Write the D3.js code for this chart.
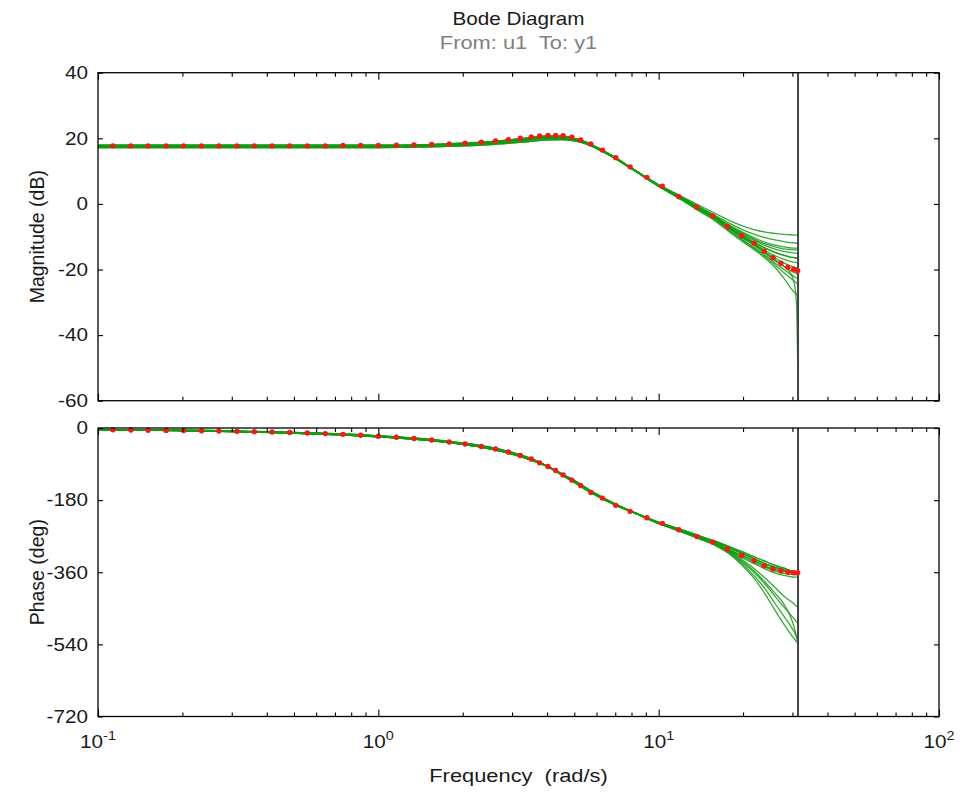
<!DOCTYPE html>
<html>
<head>
<meta charset="utf-8">
<script src="https://cdn.jsdelivr.net/npm/d3@7/dist/d3.min.js"></script>
<style>
  html, body { margin: 0; padding: 0; background: #ffffff; }
  svg { display: block; }
  text { font-family: "Liberation Sans", Arial, Helvetica, sans-serif; }
</style>
</head>
<body>
<svg id="chart" width="963" height="793"></svg>
<script>
// ---------------- DATA ----------------
const titleText = "Bode Diagram";
const subtitleText = "From: u1  To: y1";
const xLabelText = "Frequency  (rad/s)";
const magLabelText = "Magnitude (dB)";
const phaseLabelText = "Phase (deg)";

const xDecades = [0.1, 1, 10, 100];
const xDecadeExp = ["-1", "0", "1", "2"];
const magTicks = [40, 20, 0, -20, -40, -60];
const phaseTicks = [0, -180, -360, -540, -720];
const nyquistFreq = 31.4159;

// nominal model (red dots)
const redFreq = [0.113,0.131,0.151,0.175,0.202,0.234,0.270,0.313,0.361,0.418,0.483,0.558,0.647,0.748,0.865,
  1.00,1.16,1.34,1.55,1.79,2.04,2.33,2.62,2.91,3.21,3.51,3.76,4.03,4.29,4.56,4.90,5.27,5.73,6.30,7.03,7.91,9.08,
  10.3,11.8,13.7,15.6,17.6,19.8,21.9,23.8,25.6,27.3,28.9,30.3,31.3];
const redMag = [17.7,17.7,17.7,17.7,17.7,17.7,17.7,17.7,17.7,17.7,17.7,17.7,17.7,17.8,17.8,
  17.8,17.9,18.0,18.1,18.3,18.5,18.8,19.2,19.6,20.0,20.4,20.7,20.9,20.9,20.8,20.3,19.5,18.3,16.4,14.1,11.3,8.1,
  5.4,2.2,-1.0,-3.7,-6.9,-9.7,-12.0,-14.4,-16.4,-18.1,-19.3,-19.9,-20.4];
const redPhase = [-4.6,-5.0,-5.5,-6.0,-6.5,-7.0,-7.6,-8.3,-9.1,-10.0,-11.0,-12.4,-14.0,-15.9,-18.0,
  -20.5,-23.2,-26.2,-30.0,-35.0,-40.0,-46.0,-52.5,-60.0,-68.5,-77.5,-87.0,-96.0,-106,-117,-130,-143.5,-161,-175,-193,-208,-224,
  -238,-254,-271,-285,-302,-318,-331,-344,-352,-357,-360,-361,-361];

// perturbed models (green lines)
const greenFreq = [0.1,0.3,1,1.5,2,2.5,3,3.5,4,4.5,5,5.5,6,7,8,10,12,14,16,18,20,22,24,26,28,29.5,30.5,31,31.4];
const greenMag = [
  [17.9,17.9,17.9,18.1,18.5,19.0,19.6,20.2,20.6,20.5,19.9,18.8,17.3,14.1,10.9,5.9,2.4,-0.5,-3.0,-5.2,-6.8,-7.9,-8.6,-9.0,-9.3,-9.4,-9.5,-9.5,-9.5],
  [17.5,17.5,17.5,17.7,18.0,18.5,19.0,19.6,20.0,20.0,19.5,18.5,17.0,13.9,10.8,5.8,2.2,-0.9,-3.6,-6.0,-7.9,-9.3,-10.3,-11.0,-11.5,-11.8,-11.9,-12.0,-12.0],
  [17.2,17.2,17.2,17.4,17.7,18.1,18.6,19.1,19.5,19.6,19.2,18.3,16.9,13.8,10.7,5.7,2.1,-1.1,-3.9,-6.6,-8.7,-10.4,-11.7,-12.6,-13.1,-13.4,-13.5,-13.5,-13.5],
  [17.7,17.7,17.7,17.9,18.3,18.8,19.3,19.9,20.3,20.2,19.7,18.6,17.1,14.0,10.9,5.7,2.0,-1.3,-4.1,-7.0,-9.3,-11.2,-12.7,-13.8,-14.5,-14.8,-15.0,-15.0,-15.0],
  [17.4,17.4,17.4,17.6,18.0,18.6,19.3,20.1,20.7,20.7,20.0,18.9,17.3,14.1,10.9,5.6,1.9,-1.4,-4.3,-7.3,-9.7,-11.8,-13.5,-14.8,-15.7,-16.2,-16.4,-16.5,-16.5],
  [17.9,17.9,17.9,18.1,18.5,19.0,19.6,20.2,20.6,20.5,19.9,18.8,17.3,14.1,10.9,5.6,1.8,-1.5,-4.4,-7.5,-10.0,-12.2,-14.2,-15.8,-16.9,-17.5,-17.8,-17.9,-18.0],
  [17.5,17.5,17.5,17.7,18.0,18.5,19.0,19.6,20.0,20.0,19.5,18.5,17.0,13.9,10.8,5.5,1.7,-1.7,-4.6,-7.8,-10.5,-12.8,-15.1,-17.3,-19.1,-20.3,-21.0,-21.3,-21.5],
  [17.2,17.2,17.2,17.4,17.7,18.1,18.6,19.1,19.5,19.6,19.2,18.3,16.9,13.8,10.7,5.4,1.5,-1.9,-4.9,-8.2,-11.0,-13.4,-15.7,-18.0,-20.0,-21.4,-22.2,-22.5,-22.7],
  [17.7,17.7,17.7,17.9,18.3,18.8,19.3,19.9,20.3,20.2,19.7,18.6,17.1,14.0,10.9,5.3,1.3,-2.3,-5.4,-8.8,-11.6,-14.1,-16.6,-19.4,-22.7,-25.5,-27.0,-27.6,-28.0],
  [17.4,17.4,17.4,17.6,18.0,18.6,19.3,20.1,20.7,20.7,20.0,18.9,17.3,14.1,10.9,5.5,1.7,-1.6,-4.5,-7.6,-10.2,-12.5,-14.8,-17.0,-19.0,-21.0,-24.5,-30.0,-54.0],
  [17.5,17.5,17.5,17.7,18.0,18.5,19.0,19.6,20.0,20.0,19.5,18.5,17.0,13.9,10.8,5.6,1.8,-1.5,-4.4,-7.6,-10.2,-12.4,-14.6,-16.5,-18.0,-18.9,-19.3,-19.4,-19.5],
  [17.7,17.7,17.7,17.9,18.3,18.8,19.3,19.9,20.3,20.2,19.7,18.6,17.1,14.0,10.9,5.7,2.0,-1.2,-4.0,-6.8,-9.0,-10.8,-12.2,-13.1,-13.7,-13.9,-14.0,-14.0,-14.0],
  [17.2,17.2,17.2,17.4,17.7,18.1,18.6,19.1,19.5,19.6,19.2,18.3,16.9,13.8,10.7,5.4,1.5,-2.0,-5.0,-8.4,-11.2,-13.7,-16.1,-18.6,-21.0,-22.6,-23.6,-24.1,-24.5],
  [17.9,17.9,17.9,18.1,18.5,19.0,19.6,20.2,20.6,20.5,19.9,18.8,17.3,14.1,10.9,5.6,1.9,-1.4,-4.3,-7.3,-9.7,-11.8,-13.5,-14.8,-15.7,-16.2,-16.4,-16.5,-16.5]
];
const greenPhase = [
  [-3.8,-7.5,-19.5,-28.0,-37.5,-48.0,-61.0,-76.0,-95,-117,-136,-154,-169,-192,-208,-235,-253,-269,-283,-297,-310,-322,-333,-343,-350,-355,-358,-359,-360],
  [-4.5,-8.8,-22.0,-31.0,-41.0,-52.0,-65.0,-79.5,-96,-114,-131,-149,-165,-190,-208,-236,-254,-271,-285,-300,-314,-327,-339,-348,-354,-358,-360,-360,-360],
  [-4.5,-8.8,-22.0,-31.0,-41.0,-52.0,-65.0,-79.5,-96,-114,-131,-149,-165,-190,-208,-235,-253,-269,-283,-297,-310,-322,-333,-343,-350,-355,-358,-359,-360],
  [-4.1,-8.0,-20.5,-29.0,-39.0,-49.5,-62.5,-77.5,-95,-114.5,-133.5,-152,-168,-192,-209,-236,-254,-271,-285,-300,-314,-327,-339,-348,-354,-358,-360,-360,-360],
  [-3.8,-7.5,-19.5,-28.0,-37.5,-48.0,-61.0,-76.0,-95,-117,-136,-154,-169,-192,-208,-237,-256,-273,-288,-305,-319,-332,-345,-353,-358,-360,-361,-361,-360],
  [-4.1,-8.0,-20.5,-29.0,-39.0,-49.5,-62.5,-77.5,-95,-114.5,-133.5,-152,-168,-192,-209,-237,-256,-273,-288,-305,-319,-332,-345,-353,-358,-360,-361,-361,-360],
  [-4.5,-8.8,-22.0,-31.0,-41.0,-52.0,-65.0,-79.5,-96,-114,-131,-149,-165,-190,-208,-238,-257,-275,-290,-308,-330,-352,-375,-398,-420,-432,-440,-444,-447],
  [-4.5,-8.8,-22.0,-31.0,-41.0,-52.0,-65.0,-79.5,-96,-114,-131,-149,-165,-190,-208,-238,-258,-276,-292,-312,-337,-362,-390,-420,-447,-465,-477,-483,-488],
  [-4.1,-8.0,-20.5,-29.0,-39.0,-49.5,-62.5,-77.5,-95,-114.5,-133.5,-152,-168,-192,-209,-239,-259,-277,-294,-316,-345,-377,-415,-455,-490,-513,-527,-533,-538],
  [-3.8,-7.5,-19.5,-28.0,-37.5,-48.0,-61.0,-76.0,-95,-117,-136,-154,-169,-192,-208,-237,-256,-274,-292,-311,-334,-358,-385,-412,-440,-470,-500,-520,-540],
  [-4.5,-8.8,-22.0,-31.0,-41.0,-52.0,-65.0,-79.5,-96,-114,-131,-149,-165,-190,-208,-238,-257,-275,-290,-307,-322,-336,-348,-357,-363,-365,-366,-366,-366],
  [-4.1,-8.0,-20.5,-29.0,-39.0,-49.5,-62.5,-77.5,-95,-114.5,-133.5,-152,-168,-192,-209,-236,-254,-271,-285,-300,-314,-327,-339,-348,-354,-358,-360,-360,-360],
  [-4.5,-8.8,-22.0,-31.0,-41.0,-52.0,-65.0,-79.5,-96,-114,-131,-149,-165,-190,-208,-238,-258,-276,-293,-314,-341,-370,-402,-438,-470,-493,-510,-520,-530],
  [-4.1,-8.0,-20.5,-29.0,-39.0,-49.5,-62.5,-77.5,-95,-114.5,-133.5,-152,-168,-192,-209,-238,-258,-276,-292,-309,-325,-339,-352,-362,-368,-371,-372,-372,-372]
];

// ---------------- LAYOUT ----------------
const svg = d3.select("#chart");
const L = 98, R = 939;
const magTop = 72.7, magBot = 400.7;
const phTop = 428, phBot = 716.5;
const SX = 1.15;          // horizontal stretch of the reference's lettering
const TXT = "#1a1a1a";

const x = d3.scaleLog().domain([0.1, 100]).range([L, R]);
const yMag = d3.scaleLinear().domain([-60, 40]).range([magBot, magTop]);
const yPh = d3.scaleLinear().domain([-720, 0]).range([phBot, phTop]);

const minorTicks = [];
[0.1, 1, 10].forEach(d => { for (let k = 2; k <= 9; k++) minorTicks.push(+(d * k).toPrecision(3)); });

const GREEN = "#129c12";
const RED = "#ff1414";

function panel(yScale, yTicks, top, bottom, curves, redVals, clipId) {
  const g = svg.append("g");
  g.append("clipPath").attr("id", clipId).append("rect")
    .attr("x", L).attr("y", top).attr("width", R - L).attr("height", bottom - top);

  const plot = g.append("g").attr("clip-path", `url(#${clipId})`);
  const line = d3.line().x(d => x(d[0])).y(d => yScale(d[1])).curve(d3.curveMonotoneX);
  curves.forEach(row => {
    plot.append("path")
      .datum(greenFreq.map((f, i) => [f, row[i]]))
      .attr("d", line)
      .attr("fill", "none")
      .attr("stroke", GREEN)
      .attr("stroke-width", 1.3)
      .attr("stroke-opacity", 0.85);
  });
  // Nyquist frequency line
  plot.append("line")
    .attr("x1", x(nyquistFreq)).attr("x2", x(nyquistFreq))
    .attr("y1", top).attr("y2", bottom)
    .attr("stroke", "#444").attr("stroke-width", 2);
  // nominal model dots
  g.append("g").selectAll("circle")
    .data(redFreq.map((f, i) => [f, redVals[i]]))
    .join("circle")
    .attr("cx", d => x(d[0])).attr("cy", d => yScale(d[1]))
    .attr("r", 2.7).attr("fill", RED);

  // ticks inside on all four sides
  const axL = g.append("g").attr("transform", `translate(${L},0)`)
    .call(d3.axisLeft(yScale).tickValues(yTicks).tickSizeInner(-5).tickSizeOuter(0).tickPadding(8.7));
  const axR = g.append("g").attr("transform", `translate(${R},0)`)
    .call(d3.axisRight(yScale).tickValues(yTicks).tickSizeInner(-5).tickSizeOuter(0).tickFormat(""));
  const axTmaj = g.append("g").attr("transform", `translate(0,${top})`)
    .call(d3.axisTop(x).tickValues(xDecades).tickSizeInner(-7).tickSizeOuter(0).tickFormat(""));
  const axTmin = g.append("g").attr("transform", `translate(0,${top})`)
    .call(d3.axisTop(x).tickValues(minorTicks).tickSizeInner(-4).tickSizeOuter(0).tickFormat(""));
  const axBmaj = g.append("g").attr("transform", `translate(0,${bottom})`)
    .call(d3.axisBottom(x).tickValues(xDecades).tickSizeInner(-7).tickSizeOuter(0).tickFormat(""));
  const axBmin = g.append("g").attr("transform", `translate(0,${bottom})`)
    .call(d3.axisBottom(x).tickValues(minorTicks).tickSizeInner(-4).tickSizeOuter(0).tickFormat(""));
  [axL, axR, axTmaj, axTmin, axBmaj, axBmin].forEach(a => {
    a.select(".domain").remove();
    a.selectAll("line").attr("stroke", "#000").attr("stroke-width", 1.1);
  });
  axL.selectAll("text")
    .attr("font-size", 18).attr("fill", TXT)
    .attr("font-family", '"Liberation Sans", Arial, Helvetica, sans-serif')
    .attr("transform", `scale(${SX},1)`)
    .text(d => d < 0 ? "-" + Math.abs(d) : String(d));

  // frame
  g.append("rect").attr("x", L).attr("y", top).attr("width", R - L).attr("height", bottom - top)
    .attr("fill", "none").attr("stroke", "#000").attr("stroke-width", 1.3);
}

panel(yMag, magTicks, magTop, magBot, greenMag, redMag, "clipMag");
panel(yPh, phaseTicks, phTop, phBot, greenPhase, redPhase, "clipPh");

// horizontal text helper with the reference's horizontal stretch
function hText(cx, y, size, color, str) {
  return svg.append("g").attr("transform", `translate(${cx},${y}) scale(${SX},1)`)
    .append("text").attr("x", 0).attr("y", 0).attr("text-anchor", "middle")
    .attr("font-size", size).attr("fill", color).style("white-space", "pre").text(str);
}

// x tick labels 10^n
xDecades.forEach((d, i) => {
  const t = svg.append("g").attr("transform", `translate(${x(d)},748) scale(${SX},1)`)
    .append("text").attr("text-anchor", "middle").attr("font-size", 18).attr("fill", TXT);
  t.append("tspan").text("10");
  t.append("tspan").attr("dy", -8).attr("font-size", 12.5).text(xDecadeExp[i]);
});

hText((L + R) / 2, 25, 18, TXT, titleText);
hText((L + R) / 2, 49, 19, "#808080", subtitleText);
hText((L + R) / 2, 782, 19, TXT, xLabelText);

svg.append("text").attr("transform", `translate(44,${(magTop + magBot) / 2}) rotate(-90)`)
  .attr("text-anchor", "middle").attr("font-size", 19.5).attr("fill", TXT).text(magLabelText);
svg.append("text").attr("transform", `translate(44,${(phTop + phBot) / 2}) rotate(-90)`)
  .attr("text-anchor", "middle").attr("font-size", 19.5).attr("fill", TXT).text(phaseLabelText);
</script>
</body>
</html>
